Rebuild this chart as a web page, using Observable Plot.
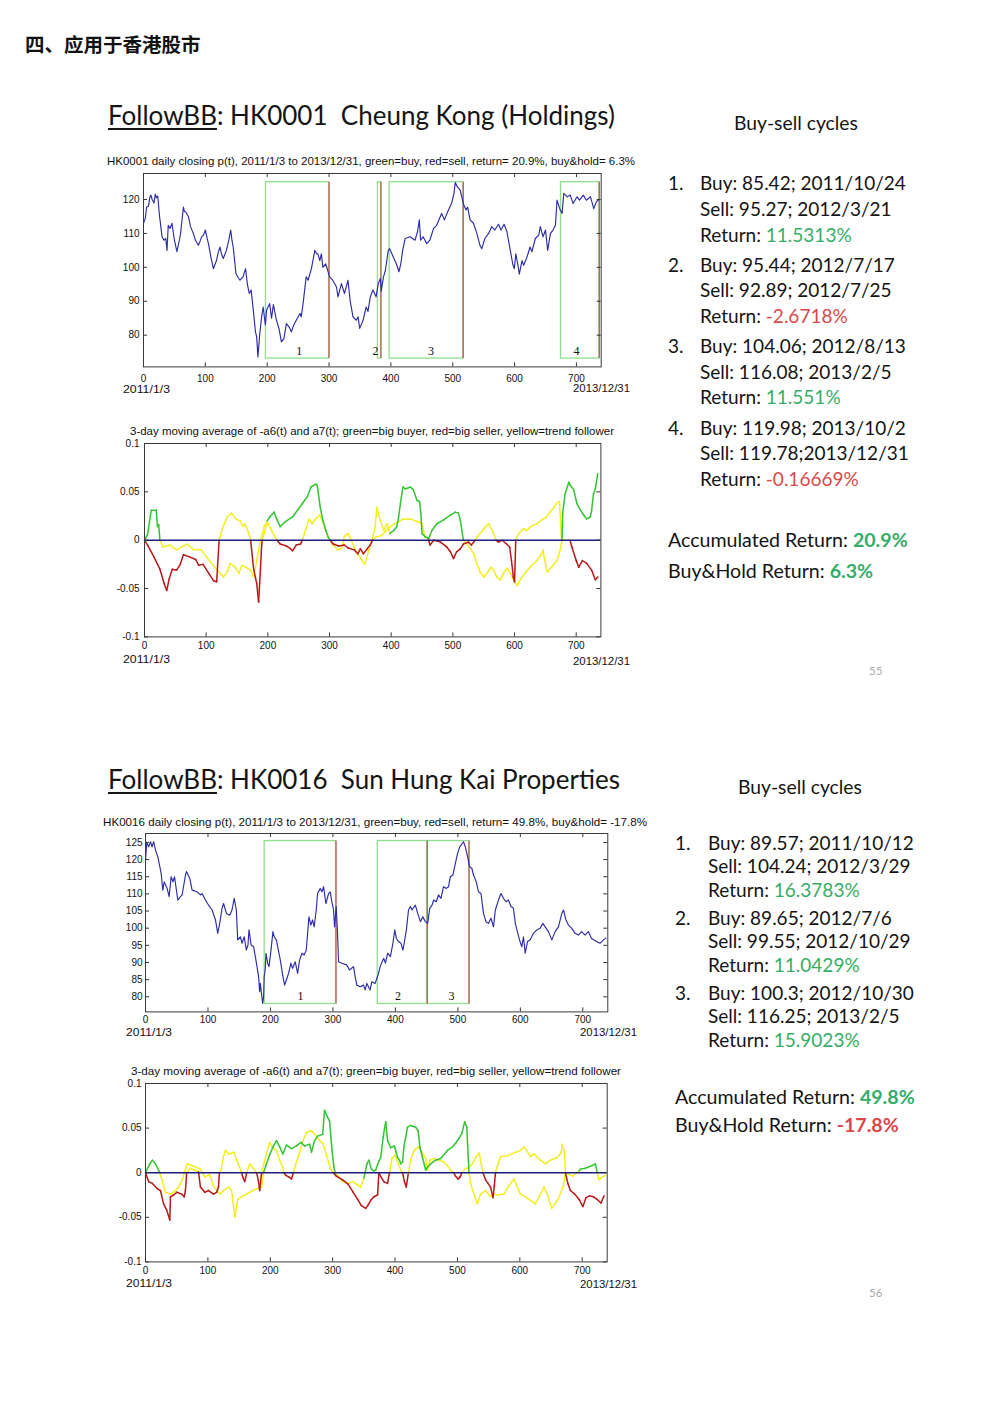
<!DOCTYPE html>
<html><head><meta charset="utf-8">
<script src="https://cdn.jsdelivr.net/npm/d3@7"></script>
<script src="https://cdn.jsdelivr.net/npm/@observablehq/plot@0.6"></script>
<style>
html,body{margin:0;padding:0;background:#fff;}
#page{position:relative;width:992px;height:1403px;overflow:hidden;background:#fff;}
.t{position:absolute;white-space:pre;}
.sl{font-family:Lato,"Open Sans",sans-serif;color:#141414;}
</style></head><body><div id="page"></div>
<script>
// ---------------- DATA ----------------
// HK0001 daily closing price (trading day index, price)
const hk1Price = [[0,113],[3,114.5],[5,117.8],[8,118],[10,120.5],[12,121.3],[14,120],[17,119],[19,121.6],[21,120.5],[23,121],[26,115],[28,112],[30,109],[33,108],[36,108.5],[38,105],[40,112.4],[43,111.5],[46,113],[50,108],[54,104.6],[58,108],[60,110],[64.5,117.8],[66,116.5],[68,116.4],[72.6,115],[76,112],[80.6,110],[84,108],[88.7,106.5],[91,107.5],[94,109],[97,109.5],[100,111],[103,108.5],[105,107],[109,103],[113,99.6],[118,102],[121,104.5],[123.7,106],[126,104],[129,102.6],[134,105],[138,108],[141,111],[143,108],[145,106],[149.5,98.2],[153,97],[156,96.2],[161,97.2],[165,99.6],[168,95],[171,92.3],[174,93.3],[177,88.3],[181,81],[183,79.5],[185,73.6],[188,80.5],[191,85.4],[193.5,88.3],[197,83],[199,87.4],[204,89.3],[207,85],[210,89],[215,84.4],[219,82],[223,78],[227,79],[231,83.4],[235.5,82.4],[239,81],[243,83],[247,84.4],[253,86.4],[255,85.4],[258,89.3],[263,97.2],[266,96.2],[271.5,99.6],[277,105],[280,104],[282,104],[285,102],[287.6,104],[290,100],[294.6,101],[298,99],[301,97.2],[306,96.2],[312,94.2],[314.5,91.3],[320,95.2],[325,92.3],[330.6,96.2],[334,90.3],[338.7,85.4],[344,84.4],[347,85.4],[349.5,82],[355,84.4],[360,88.3],[363,87],[366.7,91.3],[371,93.3],[376,91.3],[379.6,95.2],[383,96.7],[384.4,93],[388,97.2],[391,99],[395.7,105],[398,105.5],[404,103],[409,101],[413,98.7],[416,101],[419,105],[423,108.5],[431,109],[439,108],[443,110.5],[446,114],[448,108],[452,109],[458,107],[463,108],[469,111.5],[474,112.4],[482,115.9],[486.5,114],[493,116.9],[498,118.8],[502,121.8],[504,125],[507.5,123.7],[512,122.8],[514.6,120.8],[518,118.3],[521.6,116.9],[524,117.8],[528,114],[533.5,113],[539,110],[544,106.5],[547,105.5],[552,108.5],[558,110],[563,112],[568,111],[574,112.7],[578,111],[583,112.7],[587.6,110.5],[593,105],[597,101],[599.5,99.6],[602,104],[605,101],[607.6,98],[612,102],[614.6,100.6],[620,103],[625,106],[628,104.6],[633.5,108.5],[639,109.5],[641.6,112],[646,109],[650,111],[653.5,105],[658,110],[662,111],[666,112.4],[668.6,119.8],[673,117.3],[676.8,115.9],[679.5,121.8],[685,120.8],[690,121.3],[694.6,118.8],[701,120.8],[705,119.8],[711,121.3],[716,119.8],[722.7,120.8],[728,117.3],[732,119.3],[736,120]];
const hk1BuyDay = [198, 379, 398, 675];
const hk1SellDay = [300, 384, 517, 737];
const hk1LabelDay = [252, 375, 465, 700];
const hk1BoxRange = [73.1, 125.1];

// HK0001 indicators: 3-day MA of a7 (buyer side) and -a6 (seller side)
const hk1Buyer = [[0,0],[5,.006],[11,.031],[19,.031],[21,.014],[23,.016],[25,0],[30,-.007],[41,-.005],[52,-.010],[60,-.007],[69,-.004],[80,-.010],[92,-.010],[100,-.017],[114,-.028],[128,-.038],[134,-.033],[139,-.024],[147,-.028],[153,-.034],[158,-.026],[164,-.028],[172,-.031],[177,-.038],[182,-.021],[188,0],[194,.014],[199,.020],[203,.024],[210,.029],[215,.021],[220,.014],[228,.019],[240,.024],[248,.031],[256,.038],[264,.045],[270,.055],[278,.058],[280,.057],[285,.034],[289,.021],[294,.010],[298,.003],[301,0],[306,-.005],[313,-.010],[320,-.008],[324,.004],[330,.007],[335,0],[345,-.014],[352,-.020],[357,-.025],[363,-.012],[370,.003],[374,.014],[377,.034],[382,.021],[388,.010],[393,.017],[398,.007],[404,.010],[409,.014],[412,.024],[415,.038],[419,.055],[423,.053],[431,.055],[436,.052],[442,.041],[446,.040],[448,.028],[450,.007],[455,.0035],[461,.002],[466,.010],[474,.017],[485,.021],[496,.026],[504,.029],[509,.028],[512,.021],[517,0],[523,-.004],[534,-.014],[539,-.024],[544,-.033],[550,-.038],[555,-.034],[562,-.028],[566,-.031],[571,-.038],[577,-.041],[582,-.034],[588,-.029],[593,-.034],[598,-.040],[604,-.047],[609,-.041],[617,-.034],[625,-.028],[636,-.021],[644,-.014],[646,-.010],[649,-.021],[653,-.033],[660,-.028],[669,-.021],[674,-.010],[677,0],[678,.028],[682,.048],[688,.060],[690,.057],[696,.052],[701,.038],[707,.031],[712,.026],[717,.022],[723,.024],[725,.031],[728,.048],[731,.053],[735,.069]];
const hk1BuyerColor = [[0,"g"],[30,"y"],[203,"g"],[306,"y"],[404,"g"],[523,"y"],[678,"g"]];
const hk1Seller = [[0,0],[5,-.005],[15,-.017],[25,-.030],[32,-.045],[36,-.052],[40,-.040],[45,-.030],[52,-.031],[58,-.025],[63,-.015],[72,-.017],[83,-.020],[88,-.026],[95,-.025],[105,-.035],[112,-.042],[117,-.043],[121,0],[126,.012],[134,.024],[141,.028],[148,.022],[155,.020],[160,.014],[163,.017],[169,.007],[172,0],[177,-.030],[182,-.045],[185,-.064],[188,-.030],[190,-.005],[191,0],[196,.012],[200,.018],[206,.010],[212,.003],[215,0],[220,-.004],[230,-.006],[237,-.009],[240,-.011],[246,-.005],[253,-.004],[256,0],[262,.012],[267,.022],[272,.017],[276,.021],[284,.026],[288,.021],[294,.010],[298,.003],[301,0],[306,-.004],[315,-.006],[324,-.005],[330,-.008],[340,-.010],[346,-.014],[350,-.009],[355,-.014],[361,-.009],[366,-.005],[370,0],[375,.003],[385,.005],[395,.012],[405,.017],[411,.019],[420,.022],[430,.022],[440,.020],[450,.017],[455,.003],[460,.002],[463,-.005],[469,0],[480,-.002],[490,-.007],[496,-.012],[501,-.019],[506,-.012],[512,-.009],[517,-.004],[525,-.002],[530,-.005],[536,0],[540,.004],[548,.010],[553,.014],[558,.017],[566,.007],[570,0],[574,-.002],[580,0],[587,-.004],[592,-.007],[595,-.021],[598,-.038],[600,-.043],[602,0],[607,.007],[615,.012],[620,.010],[626,.014],[636,.017],[644,.021],[652,.024],[657,.029],[663,.033],[668,.038],[673,.040],[676,0],[690,0],[693,-.007],[700,-.021],[704,-.028],[710,-.021],[717,-.024],[725,-.031],[731,-.041],[735,-.038]];
const hk1SellerColor = [[0,"r"],[126,"y"],[177,"r"],[196,"y"],[220,"r"],[262,"y"],[306,"r"],[375,"y"],[463,"r"],[540,"y"],[574,"r"],[607,"y"],[693,"r"]];

// HK0016 daily closing price
const hk16Price = [[0,119.9],[2,125],[5,123.7],[8,125.2],[10.5,123.7],[13,125.2],[16,122.8],[19.7,120.8],[23,117.9],[25,116],[27.7,111.1],[30,113.5],[34.6,111.6],[37.8,109.2],[41,115],[44,113.5],[46.4,115],[49.5,111.1],[51.7,108.2],[56,109.2],[58.6,109.7],[64,115.5],[65.5,116.5],[70.9,114.5],[74.6,111.1],[82.6,110.6],[88,109.7],[90.6,110.1],[95.9,108.2],[101,106.7],[106.6,105.3],[112,102.4],[115.6,98.5],[118.8,101.4],[122.5,105.8],[125,107.2],[129.5,104.3],[134.8,103.8],[138.5,105.3],[142,108.7],[145.4,105.3],[147.6,96.6],[151.8,97.5],[154.5,95.6],[158,97.5],[161.4,93.6],[164,95.1],[165.7,99.5],[169,95.1],[173,94.6],[175.8,91.7],[178.5,88.8],[181,85.9],[182.7,81.5],[183.8,83.9],[187.5,78.1],[189,80],[190,85.9],[191.5,87.8],[192.9,92.7],[195.5,89.8],[197.6,88.8],[200.9,93.6],[204,99],[206,97.5],[209.4,96.6],[215.8,90.7],[220,85.9],[222.7,83.4],[225.4,84.9],[229,86.8],[232.8,89.8],[235.4,88.3],[239.7,90.2],[243.5,86.8],[246.7,90.7],[250.4,92.7],[254,92.2],[257.3,93.6],[259.5,98.5],[261.6,103.3],[264.8,100.9],[267.4,102.4],[270,100.4],[273.3,105.3],[275.4,110.1],[279.7,111.6],[282.4,110.6],[285,112.1],[288.8,107.2],[293,110.1],[295.7,110.6],[298.3,107.7],[301,105.3],[302.6,100.4],[305.3,106.3],[307.4,98.5],[309,90.2],[314.3,89.8],[322,89.3],[326.6,87.8],[333,88.8],[335.6,85.9],[338.3,83.4],[343.6,82.9],[349,83.4],[351.6,82],[354.3,83.9],[359.6,82],[362.3,84.4],[367.6,83.9],[373,86.8],[375.6,88.8],[378.7,90.2],[381.4,91.2],[384,89.8],[387.7,92.7],[392,91.7],[396,95.6],[399,99.5],[401.6,97],[405,96.1],[409,95.6],[412,93.6],[414,95.6],[417.6,99.5],[421,105.3],[424,106.3],[426.6,105.3],[432,106.7],[435.7,104.3],[440,101.9],[444,103.3],[448,101.9],[451.7,101.4],[455,105.8],[458.6,106.7],[461.3,108.2],[465.5,107.7],[469,109.7],[473,108.7],[477,112.1],[481.5,111.6],[485,112.1],[488,115],[492,115.5],[496,118.9],[499.6,121.8],[503,123.7],[509,125.2],[512,123.7],[515.6,120.8],[518.8,117.9],[522.5,117.4],[525,115.5],[529.5,113.5],[533,110.6],[537,110.1],[541,104.3],[545,101.9],[549,101.4],[553,102.9],[557,100.4],[560,105.3],[565,108.2],[569,110.1],[573,108.7],[577,107.7],[581,108.2],[585,106.3],[589,105.8],[592,101.4],[594.5,99.5],[598.7,96.6],[602.4,94.6],[605,97.5],[607.8,92.7],[611.5,96.1],[615.8,96.6],[621,98.5],[626.4,99.5],[631.7,100],[636,101.4],[639.7,100.4],[645,99],[650.4,96.6],[655.7,99],[661,100.4],[666.4,104.3],[669,105.3],[673,102.4],[677,100.9],[682,100],[687.7,98.5],[693,98],[698,99],[703.7,98],[709,99],[714,97],[722,96.1],[727.6,95.6],[733,96.6],[737,97.1]];
const hk16BuyDay = [190.7, 371.8, 452];
const hk16SellDay = [305, 451, 518];
const hk16LabelDay = [248, 404, 490];
const hk16BoxRange = [77.9, 125.4];

const hk16Buyer = [[0,0],[7,.010],[11,.014],[16,.010],[23,0],[32,-.022],[40,-.024],[48,-.020],[53,-.016],[59,-.008],[62,0],[67,.010],[74,.008],[82,.006],[88,.004],[95,-.005],[103,-.002],[109,-.015],[114,-.020],[120,-.024],[125,-.020],[133,-.016],[138,-.020],[143,-.050],[148,-.030],[154,-.027],[162,-.024],[167,-.022],[172,-.020],[178,-.018],[186,-.016],[189,0],[194,.010],[199,.020],[205,.030],[210,.036],[215,.029],[220,.021],[226,.031],[234,.027],[242,.030],[249,.034],[255,.030],[263,.032],[266,.023],[271,.036],[276,.041],[284,.043],[287,.070],[292,.062],[295,.058],[299,.025],[302,.006],[304,0],[309,-.004],[316,-.010],[325,-.012],[333,-.010],[340,-.014],[345,-.016],[350,-.006],[355,.010],[358,.014],[362,.004],[366,.002],[369,.003],[374,.013],[377,.017],[381,.040],[383.5,.051],[385,.057],[388,.036],[393,.028],[399,.030],[404,.017],[407,.014],[409,.010],[412,.012],[414,.028],[420,.051],[425,.053],[433,.051],[437,.047],[440,.028],[444,.017],[449,.003],[452,.006],[457,.010],[465,.014],[473,.016],[484,.025],[492,.029],[497,.033],[502,.038],[507,.044],[511.6,.057],[515,.051],[517,.021],[518.5,0],[521,-.012],[526.5,-.024],[532,-.035],[537,-.024],[545,-.020],[553,-.027],[558.6,-.024],[564,-.025],[574.6,-.024],[583,-.014],[590.6,-.007],[596,-.016],[601,-.024],[609,-.027],[617,-.031],[625,-.035],[633,-.024],[638.6,-.016],[644,-.024],[651,-.040],[660,-.031],[665,-.024],[670,-.014],[673,0],[685,-.004],[695,.002],[697,.004],[705,.005],[716,.008],[721,.010],[724,0],[727,-.008],[732,-.005],[737,-.003]];
const hk16BuyerColor = [[0,"g"],[32,"y"],[194,"g"],[309,"y"],[355,"g"],[521,"y"],[697,"g"],[727,"y"]];
const hk16Seller = [[0,0],[5,-.010],[11,-.012],[19,-.018],[24,-.020],[29,-.035],[34,-.042],[39,-.053],[40,-.027],[45,-.025],[50,-.022],[58,-.024],[62,-.027],[64,-.020],[66,0],[72,.005],[78,.003],[85,.001],[88,-.016],[95,-.022],[101,-.020],[109,-.024],[114,-.022],[117,-.016],[118.4,0],[121,.003],[125,.018],[128,.025],[134,.021],[142,.023],[146,.014],[151,.006],[154,0],[156,-.005],[159,-.010],[162,-.001],[167,.010],[172,.006],[178,0],[181,-.009],[183,-.020],[186,0],[191,.014],[199,.034],[204,.028],[210,.025],[215,.014],[220,.006],[222,0],[225,-.003],[230,-.005],[234,-.007],[237,0],[241,.010],[246,.020],[252,.035],[258,.045],[266,.047],[271,.043],[279,.036],[285,.032],[290,.020],[296,.005],[301,0],[306,-.004],[316,-.008],[325,-.013],[333,-.022],[340,-.030],[346,-.037],[353,-.040],[357,-.036],[361,-.031],[366,-.027],[372,-.025],[374,0],[377,-.004],[382,-.010],[388,-.012],[391,0],[395,.016],[400,.020],[404,.012],[409,.003],[412,0],[415,-.010],[418,-.016],[421,-.002],[425,.015],[431,.025],[437,.029],[444,.022],[449,.016],[452,.003],[456,.014],[462,.016],[470,.014],[478,.012],[484,.008],[490,.002],[494,0],[497,-.004],[501,-.007],[504,-.005],[507,0],[512,.004],[518,.006],[524,.010],[530,.018],[535,.022],[538,.010],[541,0],[545,-.008],[549,-.012],[553,-.016],[557,-.028],[559,-.015],[561,0],[565,.010],[569,.018],[580,.019],[590,.022],[601,.025],[607,.029],[612,.024],[617,.018],[623,.021],[633,.014],[641,.010],[649,.014],[660,.017],[666,.022],[668,.032],[671,.025],[673,0],[677,-.012],[681,-.020],[688,-.024],[695,-.030],[701,-.038],[706,-.028],[712,-.026],[718,-.027],[724,-.030],[730,-.034],[735,-.026]];
const hk16SellerColor = [[0,"r"],[72,"y"],[88,"r"],[121,"y"],[156,"r"],[167,"y"],[181,"r"],[191,"y"],[225,"r"],[241,"y"],[306,"r"],[395,"y"],[415,"r"],[425,"y"],[497,"r"],[512,"y"],[545,"r"],[565,"y"],[677,"r"]];

// tick values
const dayTicks = [0, 100, 200, 300, 400, 500, 600, 700];
const hk1PriceTicks = [80, 90, 100, 110, 120];
const hk16PriceTicks = [80, 85, 90, 95, 100, 105, 110, 115, 120, 125];
const indTicks = [-0.1, -0.05, 0, 0.05, 0.1];

// text panels
const hk1Buys = ["Buy: 85.42; 2011/10/24", "Buy: 95.44; 2012/7/17", "Buy: 104.06; 2012/8/13", "Buy: 119.98; 2013/10/2"];
const hk1Sells = ["Sell: 95.27; 2012/3/21", "Sell: 92.89; 2012/7/25", "Sell: 116.08; 2013/2/5", "Sell: 119.78;2013/12/31"];
const hk1Returns = ["11.5313%", "-2.6718%", "11.551%", "-0.16669%"];
const hk16Buys = ["Buy: 89.57; 2011/10/12", "Buy: 89.65; 2012/7/6", "Buy: 100.3; 2012/10/30"];
const hk16Sells = ["Sell: 104.24; 2012/3/29", "Sell: 99.55; 2012/10/29", "Sell: 116.25; 2013/2/5"];
const hk16Returns = ["16.3783%", "11.0429%", "15.9023%"];

// ---------------- RENDER ----------------
const page = document.getElementById("page");
const GREEN_T = "#35ad68", RED_T = "#d84a4a";
const LINE = {g: "#33c433", r: "#b81818", y: "#f2ee22"};

function html(content, x, yc, size, cls, style = "") {
  const d = document.createElement("div");
  d.className = "t " + cls;
  d.style.cssText = `left:${x}px;top:${yc - size * 0.62}px;font-size:${size}px;line-height:${size * 1.24}px;` + style;
  d.innerHTML = content;
  page.appendChild(d);
  return d;
}
function stext(str, x, yc, size, width, opts = {}) {
  const ns = "http://www.w3.org/2000/svg";
  const svg = document.createElementNS(ns, "svg");
  const h = size * 2;
  svg.setAttribute("width", width + 20);
  svg.setAttribute("height", h);
  svg.style.cssText = `position:absolute;left:${x}px;top:${yc - h / 2}px;overflow:visible;`;
  const t = document.createElementNS(ns, "text");
  t.setAttribute("x", 0);
  t.setAttribute("y", h / 2 + size * 0.36);
  t.setAttribute("font-family", opts.family || "'Liberation Sans', Arial, sans-serif");
  t.setAttribute("font-size", size);
  t.setAttribute("fill", opts.fill || "#111");
  if (opts.weight) t.setAttribute("font-weight", opts.weight);
  if (width) { t.setAttribute("textLength", width); t.setAttribute("lengthAdjust", "spacingAndGlyphs"); }
  t.textContent = str;
  svg.appendChild(t);
  page.appendChild(svg);
}
function mount(svg, left, top) {
  const d = document.createElement("div");
  d.style.cssText = `position:absolute;left:${left}px;top:${top}px;`;
  d.appendChild(svg);
  page.appendChild(d);
}
function tickRules(xDom, yDom, frame, xTicks, yTicks) {
  const tp = 4;
  const tx = tp * (xDom[1] - xDom[0]) / (frame[2] - frame[0]);
  const ty = tp * (yDom[1] - yDom[0]) / (frame[3] - frame[1]);
  const st = {stroke: "#333", strokeWidth: 1};
  return [
    Plot.ruleX(xTicks, {x: d => d, y1: yDom[0], y2: yDom[0] + ty, ...st}),
    Plot.ruleX(xTicks, {x: d => d, y1: yDom[1] - ty, y2: yDom[1], ...st}),
    Plot.ruleY(yTicks, {y: d => d, x1: xDom[0], x2: xDom[0] + tx, ...st}),
    Plot.ruleY(yTicks, {y: d => d, x1: xDom[1] - tx, x2: xDom[1], ...st})
  ];
}
function basePlot(frame, xDom, yDom, yTicks, yFmt, xPad, yPad, marks) {
  const ML = 50, MT = 10, MR = 40, MB = 30;
  const W = frame[2] - frame[0] + ML + MR, H = frame[3] - frame[1] + MT + MB;
  const svg = Plot.plot({
    width: W, height: H,
    marginLeft: ML, marginTop: MT, marginRight: MR, marginBottom: MB,
    style: {background: "transparent", fontFamily: "'Liberation Sans', Arial, sans-serif", fontSize: "10px", color: "#111", overflow: "visible"},
    x: {domain: xDom, ticks: dayTicks, tickSize: 0, tickPadding: xPad, tickFormat: d => String(d), label: null},
    y: {domain: yDom, ticks: yTicks, tickSize: 0, tickPadding: yPad, tickFormat: yFmt, label: null},
    marks: [...marks, ...tickRules(xDom, yDom, frame, dayTicks, yTicks), Plot.frame({stroke: "#3a3a3a", strokeWidth: 1})]
  });
  mount(svg, frame[0] - ML, frame[1] - MT);
}
function priceChart(frame, xDom, yDom, yTicks, xPad, yPad, price, buys, sells, labels, range) {
  const cycles = buys.map((b, i) => ({b, s: sells[i], lab: labels[i], n: String(i + 1)}));
  basePlot(frame, xDom, yDom, yTicks, d => String(d), xPad, yPad, [
    Plot.rect(cycles, {x1: "b", x2: "s", y1: range[0], y2: range[1], fill: "none", stroke: "#8ee08e", strokeWidth: 1.3}),
    Plot.ruleX(cycles, {x: "s", y1: range[0], y2: range[1], stroke: "#c85a5a", strokeWidth: 1.3}),
    Plot.text(cycles, {x: "lab", y: range[0], text: "n", dy: -7.5, fontFamily: "'Liberation Serif', serif", fontSize: 12, fill: "#111"}),
    Plot.line(price, {x: d => d[0], y: d => d[1], stroke: "#2c2ca6", strokeWidth: 1.15})
  ]);
}
function segments(series, colors) {
  const out = [];
  for (let i = 1; i < series.length; i++) {
    const [x1, y1] = series[i - 1], [x2, y2] = series[i];
    let c = colors[0][1];
    for (const [s, col] of colors) if (x2 >= s) c = col;
    out.push({x1, y1, x2, y2, c});
  }
  return out;
}
function indChart(frame, xDom, xPad, yPad, buyer, buyerColor, seller, sellerColor) {
  const segs = [...segments(buyer, buyerColor), ...segments(seller, sellerColor)];
  const m = c => Plot.link(segs.filter(d => d.c === c), {x1: "x1", y1: "y1", x2: "x2", y2: "y2", stroke: LINE[c], strokeWidth: 1.5, strokeLinecap: "round"});
  basePlot(frame, xDom, [-0.1, 0.1], indTicks, d => (d === 0 ? "0" : String(d)), xPad, yPad, [
    m("y"), m("r"), m("g"),
    Plot.ruleY([0], {stroke: "#1c1c82", strokeWidth: 1.6})
  ]);
}

// header
html("四、应用于香港股市", 25, 44, 19.5, "", "font-family:'Noto Sans CJK SC',sans-serif;font-weight:700;color:#111;");

const UL = '<span style="text-decoration:underline;text-underline-offset:3px;text-decoration-thickness:1.5px">FollowBB</span>';

// ===== Slide 55 =====
html(UL + ': HK0001  Cheung Kong (Holdings)', 108, 115, 26, "sl");
stext("HK0001 daily closing p(t), 2011/1/3 to 2013/12/31, green=buy, red=sell, return= 20.9%, buy&hold= 6.3%", 107, 161, 10.5, 528);
priceChart([143.3, 173.3, 601, 366.7], [0, 740], [70.65, 127.67], hk1PriceTicks, 8, 4, hk1Price, hk1BuyDay, hk1SellDay, hk1LabelDay, hk1BoxRange);
stext("2011/1/3", 123, 389, 10.5, 47);
stext("2013/12/31", 573, 388, 10.5, 57);
stext("3-day moving average of -a6(t) and a7(t); green=big buyer, red=big seller, yellow=trend follower", 130, 431, 10, 484);
indChart([144.3, 443.3, 600.7, 636.7], [0, 740], 5, 5, hk1Buyer, hk1BuyerColor, hk1Seller, hk1SellerColor);
stext("2011/1/3", 123, 659, 10.5, 47);
stext("2013/12/31", 573, 661, 10.5, 57);

html("Buy-sell cycles", 734, 123, 19.3, "sl");
const rowY1 = [[183, 209, 235], [265, 290, 316], [346, 372, 397], [428, 453, 479]];
hk1Buys.forEach((b, i) => {
  const r = hk1Returns[i], col = r.startsWith("-") ? RED_T : GREEN_T;
  html(`${i + 1}.`, 668, rowY1[i][0], 19, "sl");
  html(b, 700, rowY1[i][0], 19, "sl");
  html(hk1Sells[i], 700, rowY1[i][1], 19, "sl");
  html(`Return: <span style="color:${col}">${r}</span>`, 700, rowY1[i][2], 19, "sl");
});
html(`Accumulated Return: <b style="color:${GREEN_T}">20.9%</b>`, 668, 540, 19.6, "sl");
html(`Buy&amp;Hold Return: <b style="color:${GREEN_T}">6.3%</b>`, 668, 571, 19.6, "sl");
html("55", 869, 671, 11.5, "sl", "color:#aaa;");

// ===== Slide 56 =====
html(UL + ': HK0016  Sun Hung Kai Properties', 108, 779, 26, "sl");
stext("HK0016 daily closing p(t), 2011/1/3 to 2013/12/31, green=buy, red=sell, return= 49.8%, buy&hold= -17.8%", 103, 822, 10.5, 544);
priceChart([145, 833.3, 607.3, 1011.7], [0, 740], [75.6, 127.6], hk16PriceTicks, 4, 3, hk16Price, hk16BuyDay, hk16SellDay, hk16LabelDay, hk16BoxRange);
stext("2011/1/3", 126, 1032, 10.5, 46);
stext("2013/12/31", 580, 1032, 10.5, 57);
stext("3-day moving average of -a6(t) and a7(t); green=big buyer, red=big seller, yellow=trend follower", 131, 1071, 10, 490);
indChart([145, 1083.3, 606.7, 1261.7], [0, 740], 5, 4, hk16Buyer, hk16BuyerColor, hk16Seller, hk16SellerColor);
stext("2011/1/3", 126, 1283, 10.5, 46);
stext("2013/12/31", 580, 1284, 10.5, 57);

html("Buy-sell cycles", 738, 787, 19.3, "sl");
const rowY2 = [[843, 866, 890], [918, 941, 965], [993, 1016, 1040]];
hk16Buys.forEach((b, i) => {
  const r = hk16Returns[i], col = r.startsWith("-") ? RED_T : GREEN_T;
  html(`${i + 1}.`, 675, rowY2[i][0], 19, "sl");
  html(b, 708, rowY2[i][0], 19, "sl");
  html(hk16Sells[i], 708, rowY2[i][1], 19, "sl");
  html(`Return: <span style="color:${col}">${r}</span>`, 708, rowY2[i][2], 19, "sl");
});
html(`Accumulated Return: <b style="color:${GREEN_T}">49.8%</b>`, 675, 1097, 19.6, "sl");
html(`Buy&amp;Hold Return: <b style="color:${RED_T}">-17.8%</b>`, 675, 1125, 19.6, "sl");
html("56", 869, 1293, 11.5, "sl", "color:#aaa;");
</script></body></html>
